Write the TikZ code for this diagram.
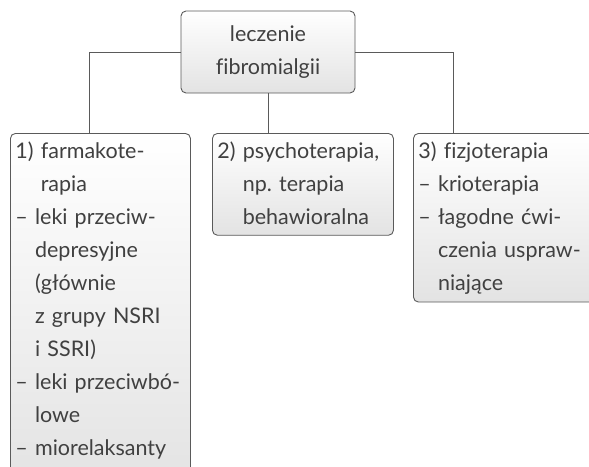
\documentclass[tikz,border=0pt]{standalone}
\usepackage{fontspec}
\setmainfont{Lato}[Ligatures=NoCommon]
\usepackage{tikz}
\frenchspacing
\definecolor{txt}{HTML}{404040}
\definecolor{rim}{HTML}{5A5A5A}
\tikzset{
  box/.style={draw=rim, line width=0.9pt, rounded corners=5pt, top color=white, bottom color=gray!22,
    text=txt, font=\fontsize{21.5}{33}\selectfont, inner xsep=5pt, inner ysep=8pt},
  link/.style={draw=rim, line width=0.9pt}
}
\begin{document}
\begin{tikzpicture}[x=1pt, y=-1pt]
    \useasboundingbox (0,0) rectangle (589,466);
    \clip (0,0) rectangle (589,466);
    \node[box, align=center, minimum width=174pt, minimum height=82pt] (root) at (268,52) {leczenie\\fibromialgii};
    \node[box, anchor=north west, text width=170pt, align=left] (farm) at (10,133)
      {1) farmakote-\\\phantom{1) }rapia\\-- leki przeciw-\\\phantom{-- }depresyjne\\\phantom{-- }(głównie\\\phantom{-- }z grupy NSRI\\\phantom{-- }i SSRI)\\-- leki przeciwbó-\\\phantom{-- }lowe\\-- miorelaksanty\\[-10pt]~};
    \node[box, anchor=north west, text width=171pt, align=left] (psych) at (212,133)
      {2) psychoterapia,\\\phantom{2) }np. terapia\\\phantom{2) }behawioralna};
    \node[box, anchor=north west, text width=180pt, align=left] (fiz) at (413,133)
      {3) fizjoterapia\\-- krioterapia\\-- łagodne ćwi-\\\phantom{-- }czenia uspraw-\\\phantom{-- }niające};
    \draw[link] (root.west) -| ([xshift=-11pt]farm.north);
    \draw[link] (root.east) -| ([xshift=-55pt]fiz.north);
    \draw[link] (root.south) -- (root.south |- psych.north);
\end{tikzpicture}
\end{document}
